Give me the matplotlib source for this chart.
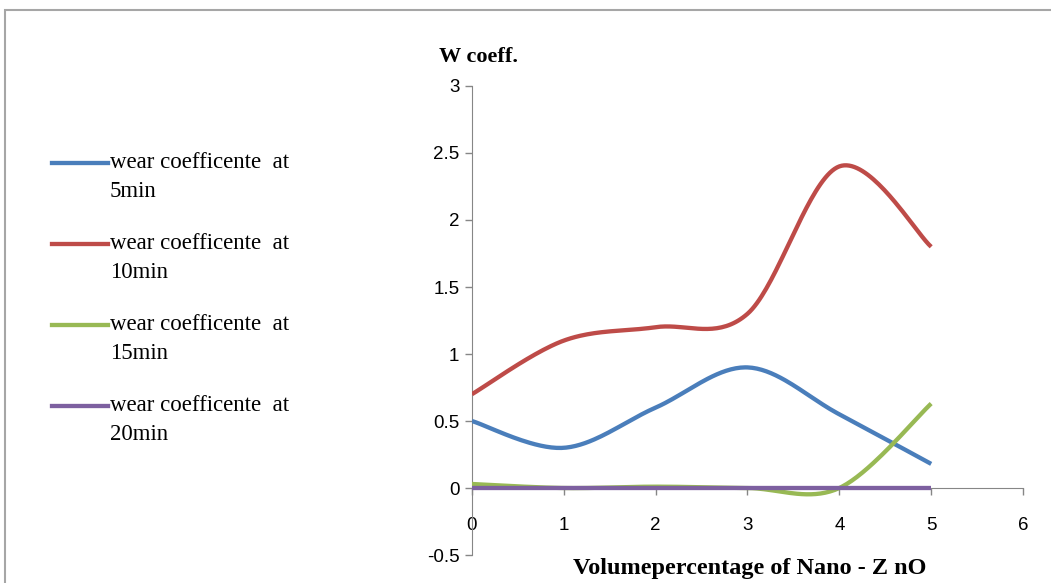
import numpy as np
import matplotlib
matplotlib.use("Agg")
import matplotlib.pyplot as plt
from matplotlib.lines import Line2D
from matplotlib.patches import Rectangle

# volume percentage of nano ZnO
vol_pct = [0, 1, 2, 3, 4, 5]

wear_5min = [0.5, 0.3, 0.6, 0.9, 0.55, 0.18]
wear_10min = [0.7, 1.1, 1.2, 1.3, 2.4, 1.8]
wear_15min = [0.03, 0.0, 0.01, 0.0, 0.0, 0.63]
wear_20min = [0.0, 0.0, 0.0, 0.0, 0.0, 0.0]

labels = ["wear coefficente  at\n5min", "wear coefficente  at\n10min",
          "wear coefficente  at\n15min", "wear coefficente  at\n20min"]
colors = ["#4A7EBB", "#BE4B48", "#98B954", "#7D60A0"]


def smooth(x, y, n=40):
    # spreadsheet-style smoothed line (Catmull-Rom through the points)
    x = np.asarray(x, float)
    y = np.asarray(y, float)
    px = np.concatenate([[x[0]], x, [x[-1]]])
    py = np.concatenate([[y[0]], y, [y[-1]]])
    xs, ys = [], []
    t = np.linspace(0, 1, n)
    h00 = 2*t**3 - 3*t**2 + 1
    h10 = t**3 - 2*t**2 + t
    h01 = -2*t**3 + 3*t**2
    h11 = t**3 - t**2
    for i in range(1, len(px) - 2):
        mx0 = (px[i+1] - px[i-1]) / 2
        mx1 = (px[i+2] - px[i]) / 2
        my0 = (py[i+1] - py[i-1]) / 2
        my1 = (py[i+2] - py[i]) / 2
        xs.append(h00*px[i] + h10*mx0 + h01*px[i+1] + h11*mx1)
        ys.append(h00*py[i] + h10*my0 + h01*py[i+1] + h11*my1)
    return np.concatenate(xs), np.concatenate(ys)


plt.rcParams['font.family'] = ['Liberation Serif', 'DejaVu Serif']

fig = plt.figure(figsize=(10.51, 5.83), dpi=100)
ax = fig.add_axes([0.449, 0.048, 0.5244, 0.8045])

series = [wear_5min, wear_10min, wear_15min, wear_20min]
for ys, c in zip(series, colors):
    sx, sy = smooth(vol_pct, ys)
    # lines sit over the axis lines
    ax.plot(sx, sy, color=c, lw=3.1, solid_capstyle='butt', zorder=3)

ax.set_xlim(0, 6)
ax.set_ylim(-0.5, 3)
ax.set_xticks(range(0, 7))
ax.set_yticks([-0.5, 0, 0.5, 1, 1.5, 2, 2.5, 3])
ax.set_yticklabels(["-0.5", "0", "0.5", "1", "1.5", "2", "2.5", "3"])

axis_grey = "#868686"
for s in ["top", "right"]:
    ax.spines[s].set_visible(False)
ax.spines["bottom"].set_position(("data", 0))
ax.spines["bottom"].set_color(axis_grey)
ax.spines["left"].set_color(axis_grey)
ax.tick_params(axis="both", colors=axis_grey, labelcolor="black", labelsize=13.5,
               length=5, width=1)
ax.tick_params(axis="x", direction="out", pad=16)
ax.tick_params(axis="y", direction="out", pad=4)
for lab in ax.get_xticklabels() + ax.get_yticklabels():
    lab.set_family("Liberation Sans")
ax.patch.set_alpha(0)

fig.text(0.455, 0.902, "W coeff.", fontsize=16, fontweight="bold", ha="center", va="center")
fig.text(0.713, 0.025, "Volumepercentage of Nano - Z nO", fontsize=17.5,
         fontweight="bold", ha="center", va="center")

# legend: short line sample next to a two-line label
leg_y = [0.720, 0.581, 0.443, 0.304]
for y, c, lab in zip(leg_y, colors, labels):
    fig.add_artist(Line2D([0.0495, 0.103], [y, y], color=c, lw=3.1,
                          transform=fig.transFigure))
    fig.text(0.1045, y + 0.019, lab, fontsize=16.5, ha="left", va="top",
             linespacing=1.5)

# chart area border
fig.patches.append(Rectangle((0.0045, -0.05), 1.1, 1.033,
                             transform=fig.transFigure, fill=False,
                             edgecolor="#A6A6A6", lw=1.5))

fig.savefig("out.png", dpi=100)
